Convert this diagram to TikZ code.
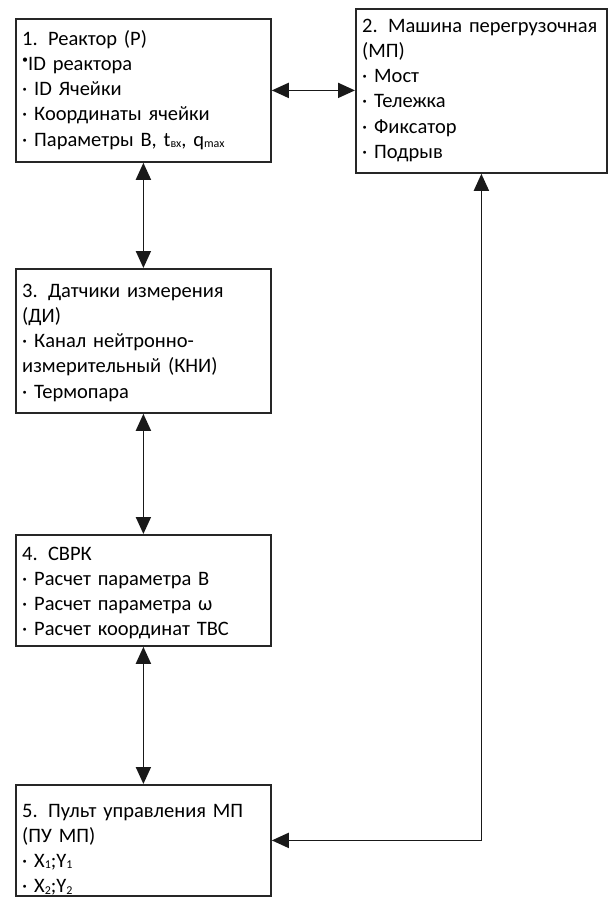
\documentclass[tikz,border=0pt]{standalone}
\usepackage{fontspec}
\setmainfont{Carlito}
\usetikzlibrary{arrows.meta}
\newcommand{\lowsub}[1]{\raisebox{-0.06em}{\fontsize{12}{12}\selectfont #1}}
\newcommand{\topdot}{\raisebox{0.35em}{\fontsize{12}{12}\selectfont •}}
\begin{document}
\begin{tikzpicture}[x=1pt,y=-1pt,
  boxnode/.style={draw=black!85, line width=1.8pt, fill=white, anchor=north west, inner sep=0pt},
  txt/.style={anchor=base west, inner sep=0pt, align=left, text width=250pt,
    font=\fontsize{20.5}{25.3}\selectfont},
  conn/.style={line width=1.8pt, draw=black!90, {Triangle[length=17pt,width=15pt]}-{Triangle[length=17pt,width=15pt]}}]
\useasboundingbox[fill=white] (0,0) rectangle (608,897);

\node[boxnode, minimum width=255pt, minimum height=143pt] (r) at (15,18) {};
\node[boxnode, minimum width=251pt, minimum height=164pt] (mp) at (355,8) {};
\node[boxnode, minimum width=255pt, minimum height=144pt] (d) at (15,268) {};
\node[boxnode, minimum width=255pt, minimum height=111pt] (s) at (15,534) {};
\node[boxnode, minimum width=255pt, minimum height=111pt] (p) at (15,784) {};

\node[txt] (rt) at (22,45) {1. Реактор (Р)\\
\topdot ID реактора\\
· ID Ячейки\\
· Координаты ячейки\\
· Параметры В, t\lowsub{вх}, q\lowsub{max}};

\node[txt] (mpt) at (362,32) {2. Машина перегрузочная\\
(МП)\\
· Мост\\
· Тележка\\
· Фиксатор\\
· Подрыв};

\node[txt] (dt) at (22,297) {3. Датчики измерения\\
(ДИ)\\
· Канал нейтронно-\\
измерительный (КНИ)\\
· Термопара};

\node[txt] (st) at (22,560) {4. СВРК\\
· Расчет параметра В\\
· Расчет параметра ω\\
· Расчет координат ТВС};

\node[txt] (pt) at (22,817) {5. Пульт управления МП\\
(ПУ МП)\\
· X\lowsub{1};Y\lowsub{1}\\
· X\lowsub{2};Y\lowsub{2}};

\draw[conn] (r.east) -- (r.east -| mp.west);
\draw[conn] (r.south) -- (d.north);
\draw[conn] (d.south) -- (s.north);
\draw[conn] (s.south) -- (p.north);
\draw[conn] (mp.south) |- (p.east);
\end{tikzpicture}
\end{document}
